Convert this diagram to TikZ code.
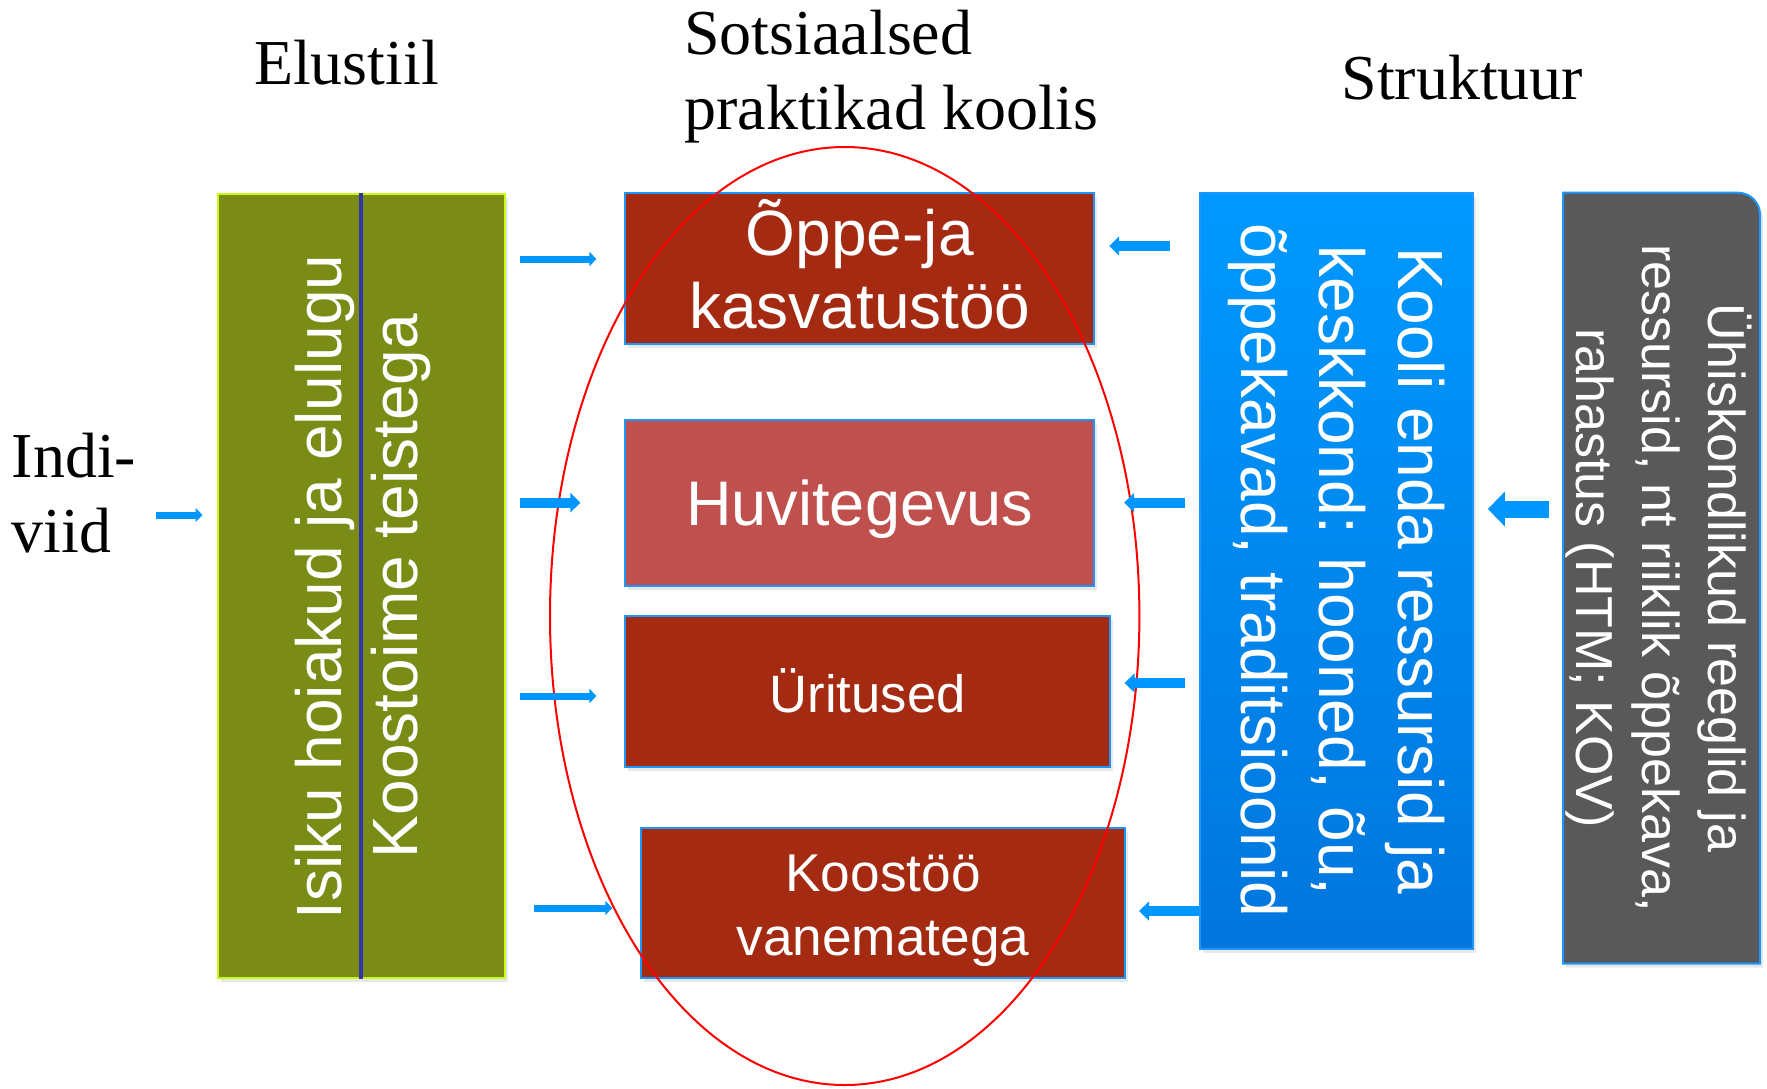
\documentclass[tikz,border=0pt]{standalone}
\usepackage{fontspec}
\setmainfont{Liberation Serif}
\newfontfamily\arialf{Liberation Sans}
\newfontfamily\serf{Liberation Serif}
\usetikzlibrary{arrows.meta,shadows,shapes.geometric}
\definecolor{olivebox}{RGB}{123,140,22}
\definecolor{limeedge}{RGB}{200,250,20}
\definecolor{darkred}{RGB}{165,42,18}
\definecolor{rosered}{RGB}{192,80,77}
\definecolor{edgeblue}{RGB}{30,150,255}
\definecolor{arrblue}{RGB}{0,150,255}
\definecolor{topblue}{RGB}{0,153,255}
\definecolor{botblue}{RGB}{0,118,221}
\definecolor{darkgray}{RGB}{89,89,89}
\definecolor{divider}{RGB}{51,51,170}
\tikzset{
  shad/.style={drop shadow={opacity=0.18, shadow xshift=1.5pt, shadow yshift=-2pt}},
  redbox/.style={rectangle, fill=darkred, draw=edgeblue, line width=1pt, shad, inner sep=0pt},
  boxtext/.style={text=white, align=center, inner sep=0pt},
  head/.style={font=\serf\fontsize{32}{37.5}\selectfont, anchor=base west, inner sep=0pt, align=left},
  arrthin/.style={draw=arrblue, line width=3.5pt, -{Triangle[length=3.5pt,width=7pt]}},
  arrmed/.style={draw=arrblue, line width=5pt, -{Triangle[length=5pt,width=9.5pt]}},
  arrbig/.style={draw=arrblue, line width=8.5pt, -{Triangle[length=8.5pt,width=17pt]}},
}
\begin{document}
\begin{tikzpicture}[x=0.5pt,y=-0.5pt]
\useasboundingbox (0,0) rectangle (1767,1088);

% headings (base anchor = baseline of the last line)
\node[head] (h1) at (253.6,84.5) {Elustiil};
\node[head] (h2) at (684,129.6) {Sotsiaalsed\\praktikad koolis};
\node[head] (h3) at (1341,99) {Struktuur};
\node[head] (indi) at (11.3,552) {Indi-\\viid};

% green box
\node[rectangle, fill=olivebox, draw=limeedge, line width=1pt, shad,
      minimum width=143.7pt, minimum height=392.2pt, inner sep=0pt] (green) at (361.2,586) {};
\draw[divider, line width=2pt] (green.north) -- (green.south);
\node[rotate=90, boxtext, font=\arialf\fontsize{32}{38}\selectfont] (g1) at (325,587) {Isiku hoiakud ja elulugu};
\node[rotate=90, boxtext, font=\arialf\fontsize{32}{38}\selectfont] (g2) at (401,586) {Koostoime teistega};

% middle boxes
\node[redbox, minimum width=234.4pt, minimum height=75.5pt] (b1) at (859.8,268.2) {};
\node[boxtext, font=\arialf\fontsize{32}{36.6}\selectfont] (t1) at ([yshift=1.8pt]b1.center) {Õppe-ja\\kasvatustöö};
\node[redbox, fill=rosered, minimum width=234.4pt, minimum height=82.9pt] (b2) at (859.8,503.2) {};
\node[boxtext, font=\arialf\fontsize{31.5}{36}\selectfont] (t2) at ([yshift=-2.8pt]b2.center) {Huvitegevus};
\node[redbox, minimum width=242.3pt, minimum height=75.5pt] (b3) at (867.7,691.9) {};
\node[boxtext, font=\arialf\fontsize{26.3}{32}\selectfont] (t3) at ([yshift=0.5pt]b3.center) {Üritused};
\node[redbox, minimum width=241.7pt, minimum height=75pt] (b4) at (883,903.3) {};
\node[boxtext, font=\arialf\fontsize{26.6}{32}\selectfont] (t4) at ([yshift=-3.5pt]b4.center) {Koostöö\\vanematega};

% red ellipse on top
\node[ellipse, draw=red, line width=1pt, minimum width=294.7pt, minimum height=469pt, inner sep=0pt] (ell) at (844.7,616) {};

% blue box
\node[rectangle, top color=topblue, bottom color=botblue, draw=edgeblue, line width=1pt, shad,
      minimum width=136.4pt, minimum height=378.1pt, inner sep=0pt] (blue) at (1336.5,570.8) {};
\node[rotate=-90, boxtext, font=\arialf\fontsize{32}{39.4}\selectfont] (bt) at (blue.center) {Kooli enda ressursid ja\\keskkond: hooned, õu,\\õppekavad, traditsioonid};

% gray box with rounded top-right corner
\path[fill=darkgray, draw=edgeblue, line width=1pt, shad]
  (1563,963.5) -- (1563,192.7) -- (1738,192.7) arc[start angle=90, end angle=0, x radius=22, y radius=-22] -- (1760.2,963.5) -- cycle;
\node[rotate=-90, boxtext, font=\arialf\fontsize{26}{33}\selectfont] (gt) at (1659,578) {Ühiskondlikud reeglid ja\\ressursid, nt riiklik õppekava,\\rahastus (HTM; KOV)};
\coordinate (graywest) at (1563,509);

% arrows left side
\coordinate (indiarr) at (156,515);
\draw[arrthin, shorten >=7pt] (indiarr) -- (green.west |- indiarr);
\draw[arrthin, shorten <=7pt] (green.east |- 0,259) -- ([xshift=-14pt]b1.west |- 0,259);
\draw[arrmed, shorten <=7pt] (green.east |- 0,502.7) -- ([xshift=-22pt]b2.west |- 0,502.7);
\draw[arrthin, shorten <=7pt] (green.east |- 0,696) -- ([xshift=-14pt]b3.west |- 0,696);
\draw[arrthin, shorten <=14pt] (green.east |- 0,908) -- ([xshift=-14pt]b4.west |- 0,908);

% arrows right side
\draw[arrmed, shorten <=14.5pt] (blue.west |- 0,246) -- ([xshift=7pt]b1.east |- 0,246);
\draw[arrmed, shorten <=7.3pt] (blue.west |- 0,502.6) -- ([xshift=14.5pt]b2.east |- 0,502.6);
\draw[arrmed, shorten <=7.3pt] (blue.west |- 0,683) -- ([xshift=6.8pt]b3.east |- 0,683);
\draw[arrmed] (blue.west |- 0,911) -- ([xshift=6.7pt]b4.east |- 0,911);
\draw[arrbig, shorten <=7pt] (graywest) -- ([xshift=7pt]blue.east |- graywest);
\end{tikzpicture}
\end{document}
